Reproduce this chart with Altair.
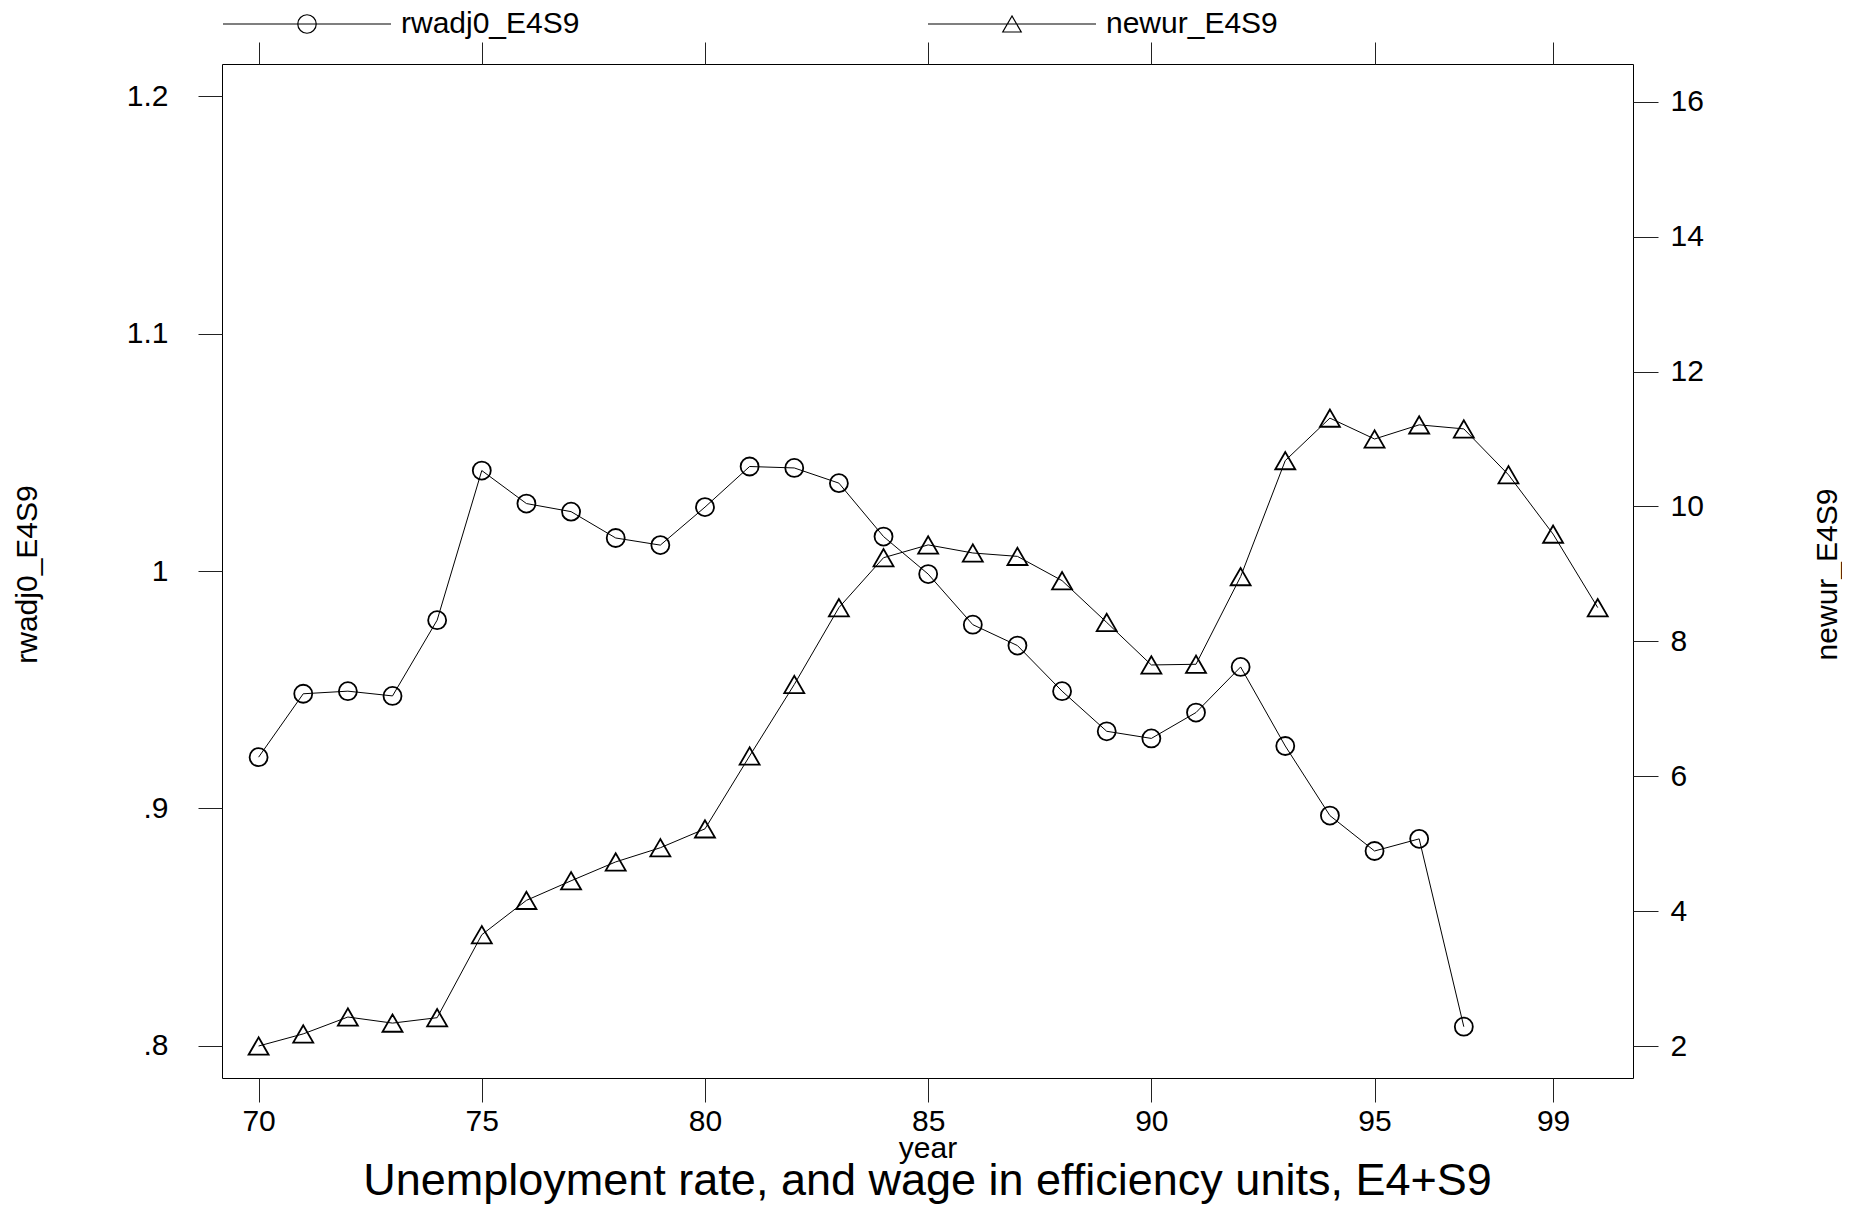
import altair as alt
import pandas as pd

# ---- data ----
years_w = list(range(70, 98))
rwadj0 = [0.9216, 0.9483, 0.9494, 0.9474, 0.9793, 1.0423, 1.0284, 1.0250, 1.0139, 1.0109,
          1.0269, 1.0440, 1.0434, 1.0370, 1.0145, 0.9987, 0.9774, 0.9686, 0.9494, 0.9325,
          0.9295, 0.9404, 0.9596, 0.9263, 0.8970, 0.8821, 0.8872, 0.8081]

years_u = list(range(70, 101))
newur = [2.00, 2.18, 2.43, 2.34, 2.42, 3.65, 4.16, 4.45, 4.73, 4.94,
         5.22, 6.30, 7.36, 8.50, 9.24, 9.43, 9.31, 9.26, 8.90, 8.28,
         7.65, 7.66, 8.96, 10.68, 11.31, 11.00, 11.21, 11.15, 10.47, 9.59, 8.50]

x_ticks = [70, 75, 80, 85, 90, 95, 99]
left_ticks = [0.8, 0.9, 1.0, 1.1, 1.2]
right_ticks = [2, 4, 6, 8, 10, 12, 14, 16]
series_names = ["rwadj0_E4S9", "newur_E4S9"]

FONT = "Liberation Sans"
W, H = 1411, 1014

dfW = pd.DataFrame({"year": years_w, "rwadj0_E4S9": rwadj0})
dfU = pd.DataFrame({"year": years_u, "newur_E4S9": newur})
dfLeg = pd.DataFrame({"series": series_names})

xscale = alt.Scale(domain=[69.18, 100.79], nice=False, zero=False)

x_bottom = alt.Axis(values=x_ticks, orient="bottom", tickSize=24, labelPadding=4,
                    labelFontSize=30, title="year", titleFontSize=30,
                    titleY=79, titleBaseline="alphabetic", domain=False, grid=False)
x_top = alt.Axis(values=x_ticks, orient="top", tickSize=22, labels=False,
                 title=None, domain=False, grid=False)

y_left = alt.Axis(values=left_ticks, orient="left", tickSize=24, labelPadding=30,
                  labelFontSize=30,
                  labelExpr="datum.value == 1 ? '1' : (datum.value < 1 ? '.' + format(datum.value*10, '.0f') : format(datum.value, '.1f'))",
                  title="rwadj0_E4S9", titleFontSize=30, titleAngle=270,
                  titleX=-195, titleY=510, titleAlign="center", titleBaseline="middle",
                  domain=False, grid=False)
y_right = alt.Axis(values=right_ticks, orient="right", tickSize=25, labelPadding=12,
                   labelFontSize=30, title="newur_E4S9", titleFontSize=30, titleAngle=270,
                   titleX=203, titleY=510, titleAlign="center", titleBaseline="alphabetic",
                   domain=False, grid=False)

yL = alt.Scale(domain=[0.7865, 1.2135], nice=False, zero=False)
yR = alt.Scale(domain=[1.526, 16.56], nice=False, zero=False)

baseW = alt.Chart(dfW).encode(
    x=alt.X("year:Q", scale=xscale, axis=x_bottom),
    y=alt.Y("rwadj0_E4S9:Q", scale=yL, axis=y_left),
)
lineW = baseW.mark_line(color="black", strokeWidth=1)
pointW = baseW.mark_point(shape="circle", size=324, filled=False, color="black",
                          strokeWidth=1.8, opacity=1)

# legend: line sample with the marker drawn through the library's legend
path_circle = "M-1,0L1,0M0.11,0A0.11,0.11,0,1,1,-0.11,0A0.11,0.11,0,1,1,0.11,0"
path_tri = "M-1,0L1,0M0,-0.095L-0.11,0.095L0.11,0.095Z"
legend_layer = alt.Chart(dfLeg).mark_point(filled=False, color="black").encode(
    x=alt.value(-5000),
    y=alt.value(-5000),
    opacity=alt.value(0),
    shape=alt.Shape(
        "series:N",
        scale=alt.Scale(domain=series_names, range=[path_circle, path_tri]),
        legend=alt.Legend(
            orient="none", legendX=0, legendY=-125, direction="horizontal", columns=2,
            columnPadding=345, title=None, padding=0,
            symbolSize=28224, symbolStrokeWidth=1.2, symbolStrokeColor="black",
            symbolFillColor="transparent", symbolOpacity=1,
            labelFont=FONT, labelFontSize=30, labelColor="black", labelOffset=9,
            labelLimit=500,
        ),
    ),
)

groupA = alt.layer(lineW, pointW, legend_layer)

baseU = alt.Chart(dfU).encode(
    x=alt.X("year:Q", scale=xscale, axis=x_top),
    y=alt.Y("newur_E4S9:Q", scale=yR, axis=y_right),
)
lineU = baseU.mark_line(color="black", strokeWidth=1)
pointU = baseU.mark_point(shape="triangle-up", size=400, filled=False, color="black",
                          strokeWidth=1.8, opacity=1)
groupB = alt.layer(lineU, pointU)

chart = alt.layer(groupA, groupB).resolve_scale(
    y="independent"
).resolve_axis(
    x="independent", y="independent"
).properties(
    width=W, height=H,
    autosize=alt.AutoSizeParams(type="none"),
    padding={"left": 214, "top": 56, "right": 209, "bottom": 127},
    title=alt.TitleParams(
        text="Unemployment rate, and wage in efficiency units, E4+S9",
        orient="bottom", anchor="middle", fontSize=45, font=FONT,
        fontWeight="normal", color="black", offset=-4, baseline="top",
    ),
).configure_view(
    stroke="black", strokeWidth=1
).configure_axis(
    labelFont=FONT, titleFont=FONT, labelColor="black", titleColor="black",
    titleFontWeight="normal", tickColor="#222", tickWidth=1,
)

chart.save("out.html", embed_options={"renderer": "svg", "actions": False})
